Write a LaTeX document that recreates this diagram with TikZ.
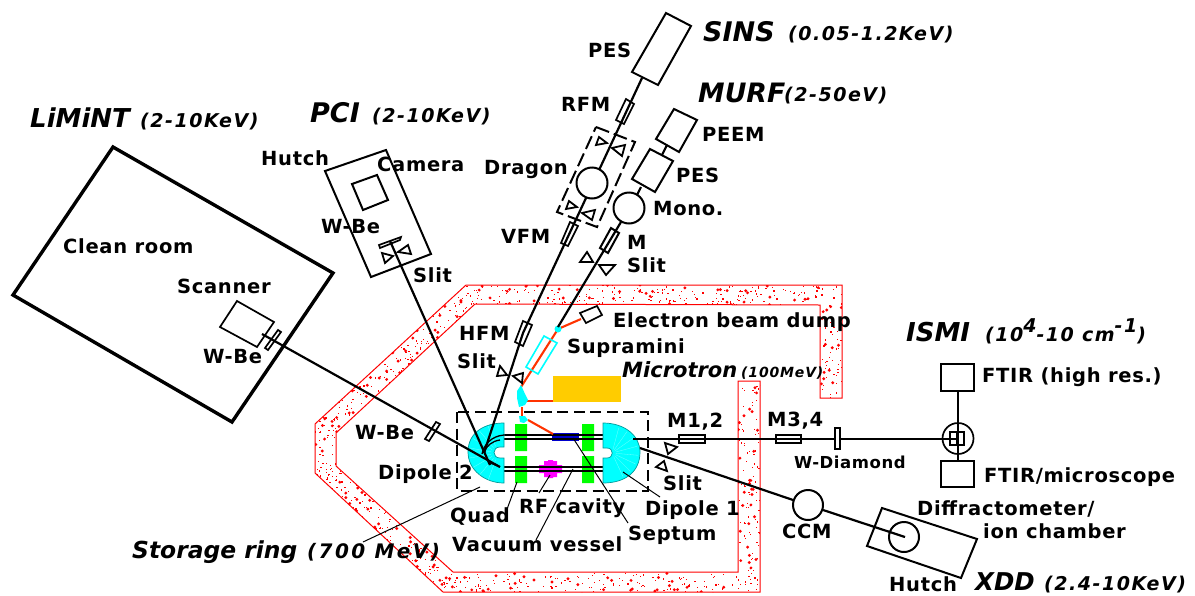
\documentclass[tikz,border=0pt]{standalone}
\usepackage{fontspec}
\setmainfont{DejaVu Sans}
\definecolor{redor}{HTML}{FF3300}
\definecolor{gold}{HTML}{FFCC00}
\definecolor{cy}{HTML}{00FFFF}
\definecolor{dteal}{HTML}{009999}
\definecolor{grn}{HTML}{00FF00}
\definecolor{blu}{HTML}{0000CC}
\definecolor{mag}{HTML}{FF00FF}
\newcommand{\lfont}[2]{\fontsize{#1}{#1}\selectfont\bfseries\addfontfeature{LetterSpace=#2}}
\newcommand{\ifont}[2]{\fontsize{#1}{#1}\selectfont\bfseries\itshape\addfontfeature{LetterSpace=#2}}
\tikzset{
 lbl/.style={anchor=base west,inner sep=0pt,font=\lfont{19.5}{3.5},text=black},
 smlbl/.style={lbl,font=\lfont{16.5}{3.5}},
 ttl/.style={anchor=base west,inner sep=0pt,font=\ifont{#1}{0}},
 sub/.style={anchor=base west,inner sep=0pt,font=\ifont{19}{8}},
 beam/.style={line width=2.2pt,black},
 box/.style={line width=2pt,black,line join=miter},
 thinbox/.style={line width=1.7pt,black},
 leader/.style={line width=1pt,black},
 slit/.style={line width=1.8pt,black,line join=miter},
 ebeam/.style={line width=2.1pt,redor},
 roundel/.style={circle,draw=black,line width=2pt,inner sep=0pt,minimum size=31pt,fill=white},
 wall/.style={line width=1pt,red},
 vessel/.style={line width=1.5pt,black},
}
\newcommand{\specks}[7]{% x0 y0 dx1 dy1 dx2 dy2 n
 \foreach \k in {1,...,#7}{%
  \pgfmathsetmacro{\ra}{rnd}\pgfmathsetmacro{\rb}{rnd}\pgfmathsetmacro{\rc}{rnd}%
  \pgfmathsetmacro{\px}{#1+\ra*(#3)+\rb*(#5)}%
  \pgfmathsetmacro{\py}{#2+\ra*(#4)+\rb*(#6)}%
  \ifdim\rc pt<0.2pt
   \fill[red] (\px,\py) circle[radius=1.6pt];
  \else
   \fill[red] (\px,\py) rectangle +(1.2,1.2);
  \fi}}
\begin{document}
\begin{tikzpicture}[x=1pt,y=-1pt]
\useasboundingbox (0,0) rectangle (1195,595);
\fill[white] (0,0) rectangle (1195,595);

% shielding wall
\def\wallpath{(466,285) -- (842,285) -- (842,398) -- (820,398) -- (820,305) -- (475,304) -- (336,433) -- (336,466) -- (453,572) -- (738,572) -- (738,381) -- (760,381) -- (760,592) -- (443,592) -- (315,473) -- (315,424) -- cycle}
\begin{scope}
 \clip \wallpath;
 \pgfmathsetseed{4711}
 \specks{470}{285}{372}{0}{0}{20}{230}
 \specks{820}{305}{22}{0}{0}{93}{55}
 \specks{466}{285}{-151}{139}{21}{9}{135}
 \specks{315}{424}{0}{50}{21}{0}{38}
 \specks{315}{473}{128}{119}{21}{-7}{125}
 \specks{445}{573}{315}{0}{0}{19}{175}
 \specks{738}{381}{22}{0}{0}{192}{110}
\end{scope}
\draw[wall,line join=miter] \wallpath;

% end points of the beam lines
\coordinate (limS) at (262,334);
\coordinate (limE) at (500,467);
\coordinate (pciS) at (390,241);
\coordinate (pciE) at (490,465);
\coordinate (sinsS) at (642,78);
\coordinate (hfmC) at (523,333);
\coordinate (sinsE) at (484,453);
\coordinate (murfS) at (621,222);
\coordinate (murfE) at (558,327);
\coordinate (hS) at (633,439);
\coordinate (xS) at (640,448);
\coordinate (dipC) at (612,453);

% magnets
\fill[grn] (515,424) rectangle (527,451) (515,456) rectangle (527,483) (582,424) rectangle (594,451) (582,456) rectangle (594,483);
\fill[mag] (539,465) -- (544,465) -- (544,461) -- (548,461) -- (548,460) -- (553,460) -- (553,461) -- (557,461) -- (557,465) -- (562,465) -- (562,473) -- (557,473) -- (557,477) -- (553,477) -- (553,478) -- (548,478) -- (548,477) -- (544,477) -- (544,473) -- (539,473) -- cycle;
\fill[blu] (552,433) rectangle (579,441);
\draw[vessel] (504,435) -- (605,435) (504,439) -- (605,439) (504,467) -- (605,467) (504,471) -- (605,471);

% dipoles
\draw[dteal,line width=0.7pt,fill=cy] (504,423) .. controls (485,423) and (468,432) .. (468,452) .. controls (468,470) and (485,483) .. (504,483) -- (504,458) -- (500,458) .. controls (492,458) and (492,447) .. (500,447) -- (504,447) -- cycle;
\draw[dteal,line width=0.7pt,fill=cy] (603,423) .. controls (625,423) and (640,436) .. (640,452) .. controls (640,472) and (625,483) .. (603,483) -- (603,458) -- (607,458) .. controls (614,458) and (614,448) .. (607,448) -- (603,448) -- cycle;
\foreach \a in {-75,-55,-35,-15,5,25,45,65}{\draw[white,line width=0.3pt,opacity=.45] (dipC) ++(\a:4) -- ++(\a:22);}
\foreach \a in {110,130,150,170,190,210,230,250}{\draw[white,line width=0.3pt,opacity=.45] (498,453) ++(\a:7) -- ++(\a:22);}

% dashed storage-ring frame
\draw[line width=2.1pt,dash pattern=on 11pt off 5.5pt] (457,412) rectangle (648,491);

% electron transport
\draw[ebeam] (558,329) -- (581,319);
\draw[ebeam] (558,329) -- (521,387);
\draw[ebeam] (527,401) -- (553,401);
\draw[ebeam] (522,407) -- (522,417);
\draw[ebeam] (528,420) -- (553,434);
\fill[cy] (558,329) circle[radius=3.5];
\fill[cy] (521,385) -- (525,394) -- (528,400) -- (525,405) -- (519,407) -- (517,398) -- (517,391) -- cycle;
\fill[cy] (519,416) -- (525,416) -- (528,420) -- (524,423) -- (520,422) -- cycle;
\node[draw=none,fill=gold,inner sep=0pt,minimum width=68pt,minimum height=26pt] (microtron) at (587,389) {};
\draw[cy,line width=1.6pt] (544,336) -- (557,343) -- (538,374) -- (526,367) -- cycle;
\draw[thinbox] (580,313) -- (597,306) -- (602,315) -- (586,323) -- cycle;

% beam lines
\draw[beam] (limS) -- (limE);
\draw[beam] (pciS) -- (pciE);
\draw[beam] (sinsS) -- (hfmC) -- (sinsE);
\draw[beam] (murfS) -- (murfE);
\draw[beam] (hS) -- (958,439);
\draw[beam] (xS) -- (793,500);
\draw[beam] (823,510) -- (905,537);

% arcs in dipole 2
\draw[line width=1.3pt] (504,435) .. controls (492,436) and (484,444) .. (482,454);
\draw[line width=1.3pt] (500,440) .. controls (492,441) and (486,446) .. (484,453);
\draw[line width=1.3pt] (488,462) -- (500,467);

% SINS
\draw[box] (666,13) -- (691,26) -- (658,85) -- (632,72) -- cycle;
\draw[thinbox] (626,99) -- (634,104) -- (624,124) -- (616,120) -- cycle;
\draw[line width=2pt,dash pattern=on 14pt off 5pt] (596,127) -- (635,142) -- (597,227) -- (557,212) -- cycle;
\node[roundel] (dragon) at (592,183) {};
\draw[slit] (596,145) -- (599,137) -- (607,143) -- cycle;
\draw[slit] (612,148) -- (625,145) -- (622,156) -- cycle;
\draw[slit] (566,209) -- (569,201) -- (577,207) -- cycle;
\draw[slit] (582,213) -- (595,210) -- (592,220) -- cycle;
\draw[thinbox] (570,222) -- (578,226) -- (568,246) -- (561,243) -- cycle;
\draw[thinbox] (523,321) -- (532,325) -- (523,346) -- (515,342) -- cycle;
\draw[slit] (497,376) -- (500,366) -- (507,375) -- cycle;
\draw[slit] (513,376) -- (523,373) -- (522,383) -- cycle;

% MURF
\draw[box] (674,109) -- (697,120) -- (679,152) -- (656,139) -- cycle;
\draw[box] (650,149) -- (673,161) -- (655,192) -- (632,179) -- cycle;
\draw[beam] (667,145) -- (662,155);
\draw[beam] (641,187) -- (637,195);
\node[roundel] (mono) at (629,208) {};
\draw[box] (611,228) -- (619,233) -- (608,253) -- (600,248) -- cycle;
\draw[slit] (580,262) -- (587,252) -- (593,262) -- cycle;
\draw[slit] (599,265) -- (615,265) -- (606,275) -- cycle;

% PCI
\draw[box] (325,171) -- (386,150) -- (431,254) -- (371,277) -- cycle;
\draw[box] (352,184) -- (377,175) -- (388,200) -- (363,210) -- cycle;
\draw[thinbox] (379,245) -- (401,237) -- (400,240) -- (380,248) -- cycle;
\draw[slit] (382,253) -- (393,256) -- (385,263) -- cycle;
\draw[slit] (411,254) -- (408,245) -- (398,252) -- cycle;

% LiMiNT
\draw[line width=3.4pt,line join=miter] (113,147) -- (333,273) -- (232,422) -- (13,295) -- cycle;
\draw[thinbox] (237,301) -- (274,322) -- (257,347) -- (220,327) -- cycle;
\draw[thinbox] (278,330) -- (281,332) -- (268,350) -- (265,348) -- cycle;
\draw[thinbox] (436,422) -- (440,424) -- (429,441) -- (425,439) -- cycle;

% horizontal branch
\draw[thinbox] (679,435) rectangle (705,443);
\draw[thinbox] (776,435) rectangle (801,443);
\draw[thinbox,fill=white] (835,428) rectangle (840,449);
\draw[slit] (665,443) -- (677,447) -- (668,454) -- cycle;
\draw[slit] (656,467) -- (664,461) -- (667,471) -- cycle;

% ISMI
\draw[beam] (958,391) -- (958,461);
\draw[box] (941,364) rectangle (974,391);
\draw[box] (941,461) rectangle (974,487);
\node[circle,draw=black,line width=1.7pt,inner sep=0pt,minimum size=31pt] (ismi) at (958,438.5) {};
\draw[line width=1.5pt] (950,432) rectangle (964,445) (957,432) -- (957,445);

% XDD
\node[roundel,minimum size=30pt] (ccm) at (808,505) {};
\node[circle,draw=black,line width=2pt,inner sep=0pt,minimum size=30pt] (diffr) at (904,537) {};
\draw[box] (882,508) -- (977,539) -- (961,578) -- (867,546) -- cycle;

% leaders
\coordinate (lq) at (517,482);
\coordinate (lqe) at (506,512);
\coordinate (lrf) at (550,475);
\coordinate (lrfe) at (539,493);
\coordinate (lv) at (573,469);
\coordinate (lve) at (536,540);
\coordinate (ls) at (573,438);
\coordinate (lse) at (628,523);
\coordinate (ld) at (623,472);
\coordinate (lde) at (660,497);
\coordinate (lr) at (480,487);
\coordinate (lre) at (363,542);
\draw[leader] (lq) -- (lqe);
\draw[leader] (lrf) -- (lrfe);
\draw[leader] (lv) -- (lve);
\draw[leader] (ls) -- (lse);
\draw[leader] (ld) -- (lde);
\draw[leader] (lr) -- (lre);

% titles
\node[ttl=27] (t1) at (703,41) {SINS};
\node[sub] (t1b) at (788,40) {(0.05-1.2KeV)};
\node[ttl=26.7] (t2) at (698,102) {MURF};
\node[sub] (t2b) at (784,101) {(2-50eV)};
\node[ttl=27] (t3) at (310,122) {PCI};
\node[sub] (t3b) at (372,122) {(2-10KeV)};
\node[ttl=26] (t4) at (30,127) {LiMiNT};
\node[sub] (t4b) at (140,127) {(2-10KeV)};
\node[ttl=26] (t5) at (906,341) {ISMI};
\node[sub] (t5b) at (985,341) {(10\raisebox{9pt}{4}-10 cm\raisebox{9pt}{-1})};
\node[ttl=21] (t6) at (622,377) {Microtron};
\node[sub,font=\ifont{14}{6}] (t6b) at (741,377) {(100MeV)};
\node[ttl=23.4] (t7) at (132,558) {Storage ring};
\node[sub,font=\ifont{20}{12}] (t7b) at (307,558) {(700 MeV)};
\node[ttl=24.5] (t8) at (975,590) {XDD};
\node[sub] (t8b) at (1044,590) {(2.4-10KeV)};

% labels
\node[lbl] (a1) at (588,57) {PES};
\node[lbl] (a2) at (561,111) {RFM};
\node[lbl] (a3) at (702,141) {PEEM};
\node[lbl] (a4) at (676,182) {PES};
\node[lbl] (a5) at (484,174) {Dragon};
\node[lbl] (a6) at (653,215) {Mono.};
\node[lbl] (a7) at (501,243) {VFM};
\node[lbl] (a8) at (627,249) {M};
\node[lbl] (a9) at (627,272) {Slit};
\node[lbl] (b1) at (261,165) {Hutch};
\node[lbl] (b2) at (377,171) {Camera};
\node[lbl] (b3) at (321,233) {W-Be};
\node[lbl] (b4) at (413,282) {Slit};
\node[lbl] (b5) at (63,253) {Clean room};
\node[lbl] (b6) at (177,293) {Scanner};
\node[lbl] (b7) at (203,363) {W-Be};
\node[lbl] (c1) at (459,340) {HFM};
\node[lbl] (c2) at (457,368) {Slit};
\node[lbl] (c3) at (613,327) {Electron beam dump};
\node[lbl] (c4) at (567,353) {Supramini};
\node[lbl] (c5) at (355,439) {W-Be};
\node[lbl] (c6) at (378,479) {Dipole 2};
\node[lbl] (d1) at (667,427) {M1,2};
\node[lbl] (d2) at (767,426) {M3,4};
\node[lbl] (d3) at (663,490) {Slit};
\node[smlbl] (d4) at (794,468) {W-Diamond};
\node[lbl] (e1) at (982,382) {FTIR (high res.)};
\node[lbl] (e2) at (984,482) {FTIR/microscope};
\node[lbl] (e3) at (917,515) {Diffractometer/};
\node[lbl] (e4) at (983,538) {ion chamber};
\node[lbl] (e5) at (889,591) {Hutch};
\node[lbl] (e6) at (782,538) {CCM};
\node[lbl] (f1) at (645,515) {Dipole 1};
\node[lbl] (f2) at (628,540) {Septum};
\node[lbl] (f3) at (519,513) {RF cavity};
\node[lbl] (f4) at (450,522) {Quad};
\node[lbl] (f5) at (452,551) {Vacuum vessel};
\end{tikzpicture}
\end{document}
